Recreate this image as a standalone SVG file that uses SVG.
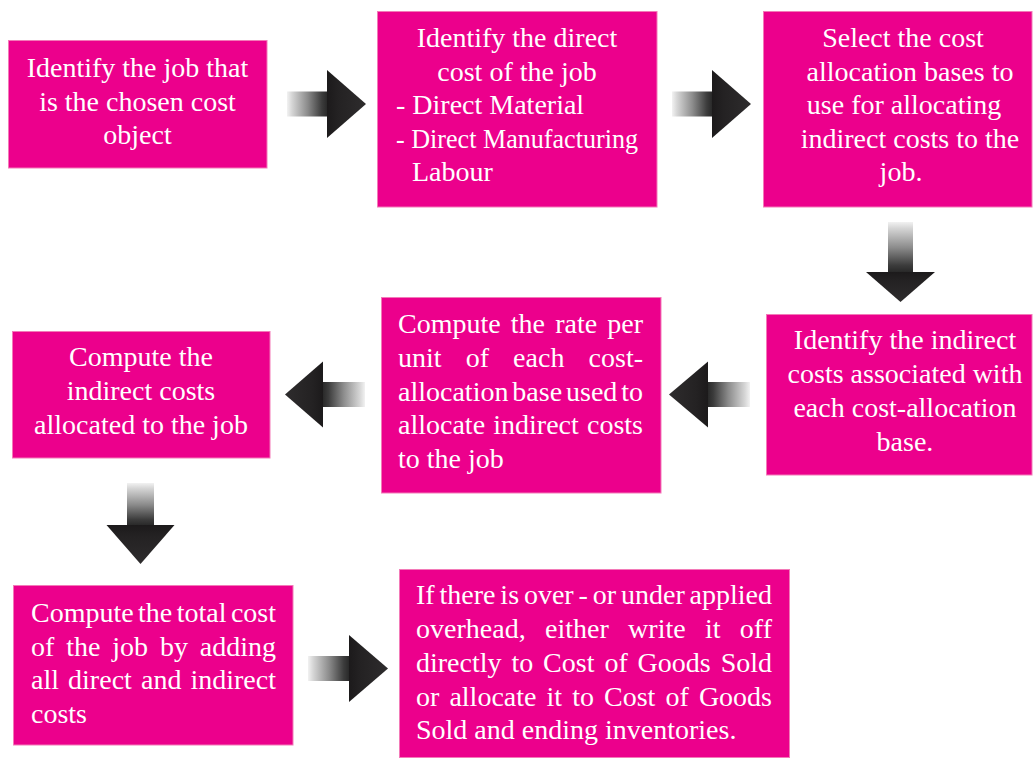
<svg xmlns="http://www.w3.org/2000/svg" width="1034" height="758" viewBox="0 0 1034 758">
<style>
.box{fill:#EC008C;stroke:#F37AB8;stroke-width:1}
.t{font-family:"Liberation Serif","Times New Roman",serif;font-size:28px;fill:#ffffff}
.c{text-anchor:middle}
.shaft{fill:url(#shaftGrad)}
.head{fill:url(#headGrad)}
</style>
<defs>
<linearGradient id="shaftGrad" x1="0" y1="0" x2="1" y2="0">
<stop offset="0" stop-color="#f2f2f2"/>
<stop offset="0.12" stop-color="#d6d6d6"/>
<stop offset="0.5" stop-color="#8c8c8c"/>
<stop offset="0.85" stop-color="#3c3c3c"/>
<stop offset="1" stop-color="#262626"/>
</linearGradient>
<linearGradient id="headGrad" x1="0" y1="0" x2="1" y2="0">
<stop offset="0" stop-color="#1c1a1b"/>
<stop offset="0.3" stop-color="#242223"/>
<stop offset="1" stop-color="#2e2c2d"/>
</linearGradient>
</defs>
<rect width="1034" height="758" fill="#ffffff"/>

<g id="connectors">
<g id="a1" transform="translate(287,104)"><rect class="shaft" x="0" y="-12.5" width="41" height="25"/><polygon class="head" points="40,-34 79,0 40,34"/></g>
<g id="a2" transform="translate(672,104)"><rect class="shaft" x="0" y="-12.5" width="41" height="25"/><polygon class="head" points="40,-34 79,0 40,34"/></g>
<g id="a3" transform="translate(900.5,222) rotate(90)"><rect class="shaft" x="0" y="-12.5" width="51" height="25"/><polygon class="head" points="50,-34.5 80,0 50,34.5"/></g>
<g id="a4" transform="translate(750,394.5) rotate(180)"><rect class="shaft" x="0" y="-12.5" width="43" height="25"/><polygon class="head" points="42,-33 81,0 42,33"/></g>
<g id="a5" transform="translate(365,394.5) rotate(180)"><rect class="shaft" x="0" y="-12.5" width="43" height="25"/><polygon class="head" points="42,-33 80,0 42,33"/></g>
<g id="a6" transform="translate(140.5,483) rotate(90)"><rect class="shaft" x="0" y="-13.5" width="43" height="27"/><polygon class="head" points="42,-34 81,0 42,34"/></g>
<g id="a7" transform="translate(308,668.5)"><rect class="shaft" x="0" y="-12.5" width="42" height="25"/><polygon class="head" points="41,-33.5 80,0 41,33.5"/></g>
</g>

<g id="n1">
<rect class="box" x="8.5" y="40.5" width="258.5" height="127.5"/>
<text class="t c" x="137.5" y="77">Identify the job that</text>
<text class="t c" x="137.5" y="110.6">is the chosen cost</text>
<text class="t c" x="137.5" y="144.2">object</text>
</g>

<g id="n2">
<rect class="box" x="377.5" y="11.5" width="279.5" height="195.5"/>
<text class="t c" x="517" y="47">Identify the direct</text>
<text class="t c" x="517" y="80.5">cost of the job</text>
<text class="t" x="396" y="114">- Direct Material</text>
<text class="t" x="396" y="147.5" textLength="242" lengthAdjust="spacingAndGlyphs">- Direct Manufacturing</text>
<text class="t" x="412" y="181">Labour</text>
</g>

<g id="n3">
<rect class="box" x="763.5" y="11.5" width="268.5" height="195.5"/>
<text class="t c" x="903" y="47">Select the cost</text>
<text class="t c" x="910" y="80.5">allocation bases to</text>
<text class="t c" x="904" y="114">use for allocating</text>
<text class="t c" x="910" y="147.5">indirect costs to the</text>
<text class="t c" x="901" y="181">job.</text>
</g>

<g id="n4">
<rect class="box" x="766.5" y="314.5" width="265.5" height="160.5"/>
<text class="t c" x="905" y="349">Identify the indirect</text>
<text class="t c" x="905" y="383">costs associated with</text>
<text class="t c" x="905" y="417">each cost-allocation</text>
<text class="t c" x="905" y="451">base.</text>
</g>

<g id="n5">
<rect class="box" x="381.5" y="297.5" width="279.5" height="195.5"/>
<text class="t" x="398" y="333" word-spacing="3.1" textLength="245">Compute the rate per</text>
<text class="t" x="398" y="367" word-spacing="17.1" textLength="245">unit of each cost-</text>
<text class="t" x="398" y="400.5" word-spacing="-3.1" textLength="245">allocation base used to</text>
<text class="t" x="398" y="434" word-spacing="1.2" textLength="245">allocate indirect costs</text>
<text class="t" x="398" y="467.5">to the job</text>
</g>

<g id="n6">
<rect class="box" x="12.5" y="331.5" width="257.5" height="126.5"/>
<text class="t c" x="141" y="366">Compute the</text>
<text class="t c" x="141" y="400">indirect costs</text>
<text class="t c" x="141" y="434">allocated to the job</text>
</g>

<g id="n7">
<rect class="box" x="13.5" y="585.5" width="279.5" height="159.5"/>
<text class="t" x="31" y="622" word-spacing="-2.6" textLength="245">Compute the total cost</text>
<text class="t" x="31" y="655.5" word-spacing="4.9" textLength="245">of the job by adding</text>
<text class="t" x="31" y="689" word-spacing="2.1" textLength="245">all direct and indirect</text>
<text class="t" x="31" y="722.5">costs</text>
</g>

<g id="n8">
<rect class="box" x="399.5" y="569.5" width="390" height="188"/>
<text class="t" x="416" y="604" word-spacing="-2.1" textLength="356">If there is over - or under applied</text>
<text class="t" x="416" y="638" word-spacing="12.2" textLength="356">overhead, either write it off</text>
<text class="t" x="416" y="672" word-spacing="2.9" textLength="356">directly to Cost of Goods Sold</text>
<text class="t" x="416" y="705.5" word-spacing="3.1" textLength="356">or allocate it to Cost of Goods</text>
<text class="t" x="416" y="739">Sold and ending inventories.</text>
</g>
</svg>
